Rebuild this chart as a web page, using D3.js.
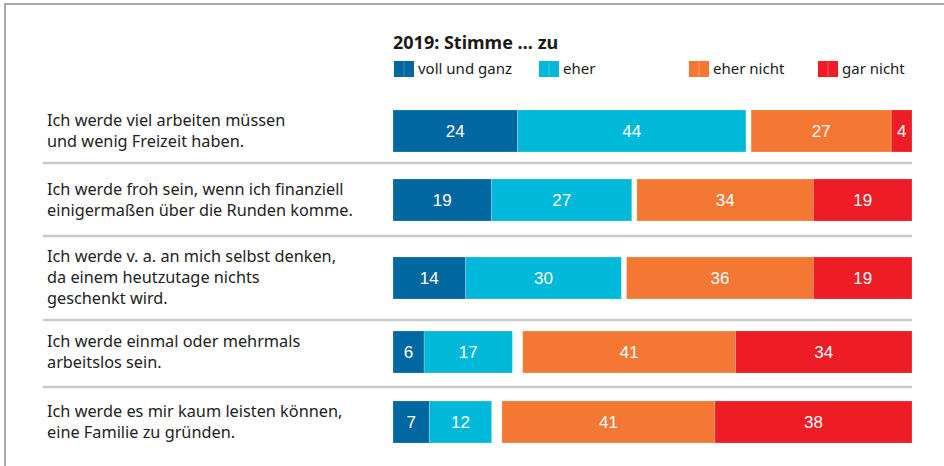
<!DOCTYPE html>
<html>
<head>
<meta charset="utf-8">
<script src="https://cdn.jsdelivr.net/npm/d3@7"></script>
<style>
  body { margin: 0; background: #fff; }
  svg { display: block; }
</style>
</head>
<body>
<div id="chart"></div>
<script>
const statements = [
    ["Ich werde viel arbeiten müssen", "und wenig Freizeit haben."],
    ["Ich werde froh sein, wenn ich finanziell", "einigermaßen über die Runden komme."],
    ["Ich werde v. a. an mich selbst denken,", "da einem heutzutage nichts", "geschenkt wird."],
    ["Ich werde einmal oder mehrmals", "arbeitslos sein."],
    ["Ich werde es mir kaum leisten können,", "eine Familie zu gründen."]
];
const vollUndGanz = [24, 19, 14, 6, 7];
const eher = [44, 27, 30, 17, 12];
const eherNicht = [27, 34, 36, 41, 41];
const garNicht = [4, 19, 19, 34, 38];

const categories = ["voll und ganz", "eher", "eher nicht", "gar nicht"];
const colors = ["#0067a1", "#00b8da", "#f47734", "#ee1d25"];
const title = "2019: Stimme … zu";

const W = 944, H = 466;
const svg = d3.select("#chart").append("svg")
    .attr("width", W)
    .attr("height", H);

// frame
svg.append("path")
    .attr("d", `M5,${H} V4 H${W}`)
    .attr("fill", "none")
    .attr("stroke", "#a9a9a9")
    .attr("stroke-width", 2);

const x = d3.scaleLinear().domain([0, 100]).range([393, 912]);
const rowCenters = [131, 200, 278, 352, 422];
const y = i => rowCenters[i];
const barH = 42;

const font = "'Noto Sans', 'Liberation Sans', Arial, sans-serif";
const numFont = "'Liberation Sans', Arial, sans-serif";

// title + legend
svg.append("text")
    .attr("x", 393).attr("y", 49)
    .attr("font-family", font)
    .attr("font-weight", "bold")
    .attr("font-size", 18)
    .attr("fill", "#1a1a1a")
    .text(title);

const legendX = [394, 539, 689, 818];
const legend = svg.selectAll(".legend")
    .data(categories)
    .enter().append("g")
    .attr("class", "legend")
    .attr("transform", (d, i) => `translate(${legendX[i]},61)`);
legend.append("rect")
    .attr("width", 20).attr("height", 16)
    .attr("fill", (d, i) => colors[i]);
legend.append("line")
    .attr("x1", 10).attr("x2", 10).attr("y1", 0).attr("y2", 16)
    .attr("stroke", "#fff").attr("stroke-opacity", 0.25);
legend.append("text")
    .attr("x", 24).attr("y", 13)
    .attr("font-family", font)
    .attr("font-size", 15)
    .attr("fill", "#1a1a1a")
    .text(d => d);

// separators
const sepY = [163, 236, 320, 387];
svg.selectAll(".sep")
    .data(sepY)
    .enter().append("line")
    .attr("x1", 43).attr("x2", x(100))
    .attr("y1", d => d).attr("y2", d => d)
    .attr("stroke", "#c6cacd")
    .attr("stroke-width", 2.5);

// statements
const lineH = 21;
statements.forEach((lines, i) => {
    const top = y(i) - (lines.length - 1) * lineH / 2;
    const t = svg.append("text")
        .attr("font-family", font)
        .attr("font-size", 16.3)
        .attr("fill", "#222");
    lines.forEach((l, k) => {
        t.append("tspan")
            .attr("x", 47)
            .attr("y", top + k * lineH + 5)
            .text(l);
    });
});

// segments: positive from the left, negative from the right
const segs = [];
statements.forEach((s, i) => {
    const pos = [vollUndGanz[i], eher[i]];
    const neg = [eherNicht[i], garNicht[i]];
    let acc = 0;
    pos.forEach((v, k) => {
        segs.push({row: i, c: k, x0: acc, x1: acc + v, v});
        acc += v;
    });
    let end = 100 - neg[0] - neg[1];
    neg.forEach((v, k) => {
        segs.push({row: i, c: k + 2, x0: end, x1: end + v, v});
        end += v;
    });
});

const bars = svg.append("g");
bars.selectAll("rect")
    .data(segs)
    .enter().append("rect")
    .attr("x", d => x(d.x0))
    .attr("width", d => x(d.x1) - x(d.x0))
    .attr("y", d => y(d.row) - barH / 2)
    .attr("height", barH)
    .attr("fill", d => colors[d.c])
    .attr("stroke", "#fff")
    .attr("stroke-opacity", 0.2)
    .attr("stroke-width", 1);

bars.selectAll("text")
    .data(segs)
    .enter().append("text")
    .attr("x", d => (x(d.x0) + x(d.x1)) / 2)
    .attr("y", d => y(d.row) + 6)
    .attr("text-anchor", "middle")
    .attr("font-family", numFont)
    .attr("font-size", 17)
    .attr("fill", "#fff")
    .text(d => d.v);
</script>
</body>
</html>
